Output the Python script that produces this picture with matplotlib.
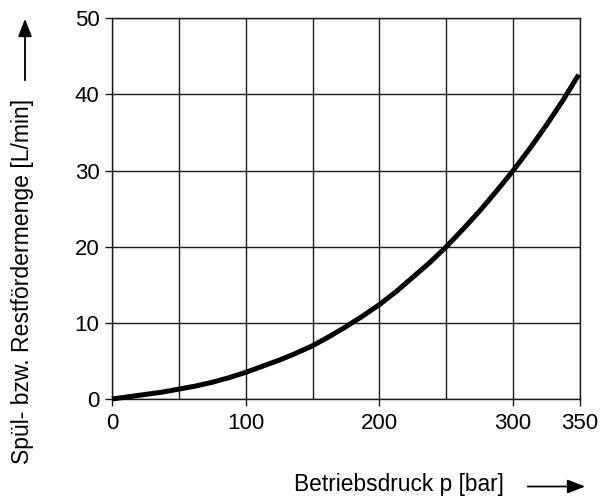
import matplotlib
matplotlib.use("Agg")
import matplotlib.pyplot as plt
from matplotlib.patches import FancyArrowPatch

plt.rcParams['font.family'] = ['Liberation Sans', 'DejaVu Sans']

# data
pressure = [0, 12.5, 25, 37.5, 50, 62.5, 75, 87.5, 100, 112.5, 125, 137.5, 150,
            162.5, 175, 187.5, 200, 212.5, 225, 237.5, 250, 262.5, 275, 287.5,
            300, 312.5, 325, 337.5, 349]
flow = [0.0, 0.3, 0.6, 0.9, 1.3, 1.7, 2.2, 2.8, 3.5, 4.3, 5.1, 6.0, 7.0,
        8.2, 9.5, 10.9, 12.4, 14.1, 16.0, 17.9, 20.0, 22.3, 24.7, 27.3,
        30.0, 32.9, 36.0, 39.3, 42.6]
x_ticks = [0, 100, 200, 300, 350]
y_ticks = [0, 10, 20, 30, 40, 50]
x_grid = [0, 50, 100, 150, 200, 250, 300, 350]
xlabel = "Betriebsdruck p [bar]"
ylabel = "Spül- bzw. Restfördermenge [L/min]"

W, H = 611, 497
fig = plt.figure(figsize=(W / 100, H / 100), dpi=100)
ax = fig.add_axes([112 / W, 1 - 399 / H, (580 - 112) / W, (399 - 18.3) / H])

ax.set_xlim(0, 350)
ax.set_ylim(0, 50)
for xv in x_grid:
    ax.axvline(xv, color='#1a1a1a', lw=1.0, zorder=1)
for yv in y_ticks:
    ax.axhline(yv, color='#1a1a1a', lw=1.0, zorder=1)

ax.plot(pressure, flow, color='black', lw=3.6, solid_capstyle='butt',
        solid_joinstyle='round', zorder=3, clip_on=False)

ax.set_xticks(x_ticks)
ax.set_yticks(y_ticks)
ax.tick_params(axis='both', direction='out', length=5, width=1.0, color='#1a1a1a',
               labelsize=16, pad=4)
ax.tick_params(axis='x', pad=5)
for s in ax.spines.values():
    s.set_color('#1a1a1a')
    s.set_linewidth(1.0)

# axis labels with arrows
fig.text(504 / W, 1 - 484 / H, xlabel, ha='right', va='center', fontsize=16.4)
fig.patches.append(FancyArrowPatch(
    (525 / W, 1 - 486.5 / H), (588 / W, 1 - 486.5 / H),
    transform=fig.transFigure, arrowstyle='-|>,head_length=0.9,head_width=0.35',
    mutation_scale=12, color='black', lw=1.3))

fig.text(23 / W, 1 - 281 / H, ylabel, ha='center', va='center', rotation=90,
         fontsize=16.6)
fig.patches.append(FancyArrowPatch(
    (25 / W, 1 - 83 / H), (25 / W, 1 - 16 / H),
    transform=fig.transFigure, arrowstyle='-|>,head_length=0.9,head_width=0.35',
    mutation_scale=12, color='black', lw=1.3))

fig.savefig("out.png", dpi=100)
